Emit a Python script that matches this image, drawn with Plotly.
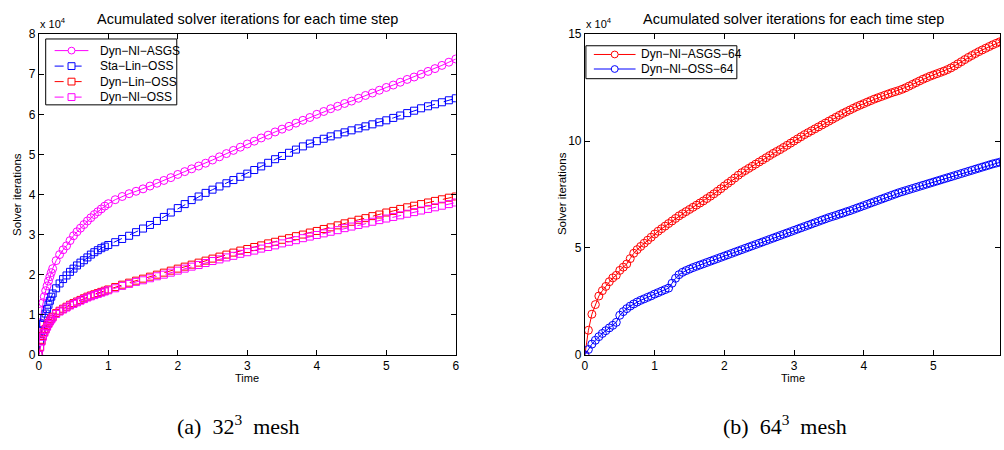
import plotly.graph_objects as go

# ---------------- data (values in units of 10^4 iterations) ----------------
time_32 = [0, 0.02, 0.04, 0.06, 0.08, 0.1, 0.12, 0.14, 0.16, 0.18, 0.2,
           0.25, 0.3, 0.35, 0.4, 0.45, 0.5, 0.55, 0.6, 0.65, 0.7, 0.75, 0.8, 0.85, 0.9, 0.95, 1.0,
           1.1, 1.2, 1.3, 1.4, 1.5, 1.6, 1.7, 1.8, 1.9, 2.0,
           2.1, 2.2, 2.3, 2.4, 2.5, 2.6, 2.7, 2.8, 2.9, 3.0,
           3.1, 3.2, 3.3, 3.4, 3.5, 3.6, 3.7, 3.8, 3.9, 4.0,
           4.1, 4.2, 4.3, 4.4, 4.5, 4.6, 4.7, 4.8, 4.9, 5.0,
           5.1, 5.2, 5.3, 5.4, 5.5, 5.6, 5.7, 5.8, 5.9, 6.0]

dyn_nl_asgs = [0, 0.8, 1.1, 1.3, 1.45, 1.6, 1.72, 1.84, 1.95, 2.05, 2.15,
               2.35, 2.5, 2.62, 2.72, 2.85, 2.97, 3.07, 3.16, 3.25, 3.34, 3.42, 3.5, 3.57, 3.64, 3.71, 3.77,
               3.87, 3.95, 4.02, 4.08, 4.14, 4.21, 4.28, 4.35, 4.42, 4.5,
               4.57, 4.64, 4.71, 4.78, 4.86, 4.94, 5.02, 5.1, 5.18, 5.26,
               5.33, 5.41, 5.48, 5.56, 5.63, 5.7, 5.78, 5.85, 5.92, 6.0,
               6.07, 6.14, 6.2, 6.27, 6.33, 6.4, 6.47, 6.53, 6.6, 6.67,
               6.73, 6.8, 6.87, 6.93, 7.0, 7.07, 7.14, 7.22, 7.3, 7.38]

sta_lin_oss = [0, 0.35, 0.6, 0.78, 0.92, 1.03, 1.14, 1.25, 1.35, 1.45, 1.53,
               1.66, 1.78, 1.89, 1.98, 2.07, 2.15, 2.23, 2.3, 2.36, 2.43, 2.5, 2.56, 2.61, 2.66, 2.7, 2.74,
               2.81, 2.89, 2.97, 3.06, 3.15, 3.24, 3.34, 3.44, 3.55, 3.66,
               3.76, 3.86, 3.95, 4.04, 4.12, 4.2, 4.28, 4.36, 4.44, 4.52,
               4.61, 4.7, 4.79, 4.88, 4.96, 5.04, 5.12, 5.2, 5.27, 5.33,
               5.39, 5.45, 5.5, 5.55, 5.6, 5.65, 5.7, 5.75, 5.8, 5.85,
               5.91, 5.97, 6.03, 6.09, 6.15, 6.2, 6.25, 6.3, 6.35, 6.4]

dyn_lin_oss = [0, 0.2, 0.35, 0.47, 0.57, 0.65, 0.72, 0.79, 0.85, 0.9, 0.95,
               1.04, 1.1, 1.15, 1.2, 1.25, 1.29, 1.33, 1.37, 1.41, 1.45, 1.48, 1.51, 1.54, 1.57, 1.6, 1.63,
               1.69, 1.75, 1.8, 1.85, 1.9, 1.95, 2.0, 2.05, 2.1, 2.15,
               2.2, 2.25, 2.3, 2.35, 2.4, 2.45, 2.5, 2.55, 2.6, 2.64,
               2.69, 2.73, 2.78, 2.82, 2.87, 2.91, 2.96, 3.0, 3.05, 3.09,
               3.14, 3.18, 3.23, 3.28, 3.32, 3.37, 3.41, 3.46, 3.5, 3.55,
               3.59, 3.64, 3.68, 3.72, 3.76, 3.8, 3.84, 3.88, 3.92, 3.95]

dyn_nl_oss = [0, 0.18, 0.33, 0.45, 0.55, 0.63, 0.7, 0.77, 0.83, 0.88, 0.93,
              1.02, 1.08, 1.13, 1.18, 1.23, 1.27, 1.31, 1.35, 1.39, 1.43, 1.46, 1.49, 1.52, 1.55, 1.58, 1.61,
              1.66, 1.72, 1.77, 1.82, 1.86, 1.91, 1.96, 2.0, 2.05, 2.1,
              2.15, 2.2, 2.24, 2.29, 2.34, 2.38, 2.43, 2.47, 2.52, 2.56,
              2.6, 2.65, 2.69, 2.73, 2.78, 2.82, 2.86, 2.91, 2.95, 2.99,
              3.03, 3.07, 3.11, 3.16, 3.2, 3.24, 3.28, 3.32, 3.36, 3.4,
              3.44, 3.48, 3.52, 3.56, 3.6, 3.64, 3.68, 3.72, 3.76, 3.8]

time_64 = [round(i * 0.05, 2) for i in range(121)]

dyn_nl_asgs_64 = [0, 1.15, 1.9, 2.35, 2.75, 3.0, 3.2, 3.42, 3.6, 3.72, 3.95, 4.1, 4.25, 4.5, 4.75, 4.92, 5.07, 5.22, 5.36, 5.5,
                  5.65, 5.78, 5.9, 6.02, 6.14, 6.26, 6.38, 6.5, 6.6, 6.7, 6.8, 6.9, 7.0, 7.1, 7.2, 7.31, 7.42, 7.53, 7.65, 7.77,
                  7.9, 8.02, 8.14, 8.27, 8.4, 8.52, 8.62, 8.72, 8.82, 8.92, 9.02, 9.12, 9.22, 9.32, 9.42, 9.51, 9.6, 9.7, 9.8, 9.9,
                  10.0, 10.1, 10.2, 10.3, 10.39, 10.48, 10.57, 10.66, 10.75, 10.84, 10.93, 11.02, 11.11, 11.2, 11.29, 11.37, 11.45, 11.53, 11.61, 11.68,
                  11.75, 11.82, 11.89, 11.96, 12.02, 12.08, 12.14, 12.2, 12.26, 12.31, 12.36, 12.42, 12.49, 12.57, 12.65, 12.73, 12.81, 12.89, 12.96, 13.03,
                  13.09, 13.15, 13.21, 13.27, 13.34, 13.42, 13.51, 13.61, 13.71, 13.81, 13.91, 14.0, 14.09, 14.18, 14.26, 14.34, 14.42, 14.5, 14.57, 14.64, 14.7]

dyn_nl_oss_64 = [0, 0.25, 0.5, 0.68, 0.85, 1.0, 1.13, 1.26, 1.38, 1.52, 1.85, 2.02, 2.16, 2.28, 2.38, 2.47, 2.55, 2.62, 2.69, 2.76,
                 2.84, 2.91, 2.98, 3.05, 3.12, 3.35, 3.58, 3.75, 3.86, 3.94, 4.01, 4.08, 4.14, 4.2, 4.26, 4.32, 4.38, 4.44, 4.5, 4.56,
                 4.62, 4.68, 4.74, 4.8, 4.86, 4.92, 4.98, 5.04, 5.1, 5.16, 5.22, 5.28, 5.34, 5.4, 5.46, 5.52, 5.58, 5.64, 5.7, 5.76,
                 5.82, 5.88, 5.94, 6.0, 6.06, 6.12, 6.18, 6.24, 6.3, 6.36, 6.42, 6.47, 6.52, 6.58, 6.63, 6.69, 6.74, 6.8, 6.86, 6.92,
                 6.98, 7.04, 7.1, 7.16, 7.22, 7.28, 7.34, 7.4, 7.46, 7.52, 7.58, 7.63, 7.68, 7.73, 7.78, 7.83, 7.88, 7.93, 7.98, 8.03,
                 8.08, 8.13, 8.18, 8.23, 8.28, 8.33, 8.38, 8.43, 8.48, 8.53, 8.58, 8.63, 8.68, 8.73, 8.78, 8.83, 8.88, 8.93, 8.97, 9.01, 9.05]

x_ticks = [0, 1, 2, 3, 4, 5, 6]
y_ticks_32 = [0, 1, 2, 3, 4, 5, 6, 7, 8]
y_ticks_64 = [0, 5, 10, 15]

series_names_32 = ["Dyn−Nl−ASGS", "Sta−Lin−OSS", "Dyn−Lin−OSS", "Dyn−Nl−OSS"]
series_names_64 = ["Dyn−Nl−ASGS−64", "Dyn−Nl−OSS−64"]

title_text = "Acumulated solver iterations for each time step"
caption_a = "(a)\u00a0 32<sup>3</sup>\u00a0 mesh"
caption_b = "(b)\u00a0 64<sup>3</sup>\u00a0 mesh"

# ---------------- figure ----------------
W, H = 1004, 450
SANS = "Liberation Sans, Arial, Helvetica, sans-serif"
SERIF = "Liberation Serif, Times New Roman, serif"
MAG, BLUE, RED = "#FF00FF", "#0000FF", "#FF0000"

fig = go.Figure()

styles_32 = [(MAG, "circle", "solid"), (BLUE, "square", "dash"),
             (RED, "square", "dash"), (MAG, "square", "dash")]
styles_64 = [(RED, "circle", "solid"), (BLUE, "circle", "solid")]


def add(x, y, name, style, size, xa, ya):
    color, sym, dash = style
    fig.add_trace(go.Scatter(
        x=x, y=y, name=name, mode="lines+markers", showlegend=False,
        line=dict(color=color, width=1, dash=dash),
        marker=dict(symbol=sym + "-open", size=size, color=color,
                    line=dict(color=color, width=1)),
        xaxis=xa, yaxis=ya))


for vals, name, st in zip([dyn_nl_asgs, sta_lin_oss, dyn_lin_oss, dyn_nl_oss], series_names_32, styles_32):
    add(time_32, vals, name, st, 8 if st[1] == "circle" else 7, "x", "y")
for vals, name, st in zip([dyn_nl_asgs_64, dyn_nl_oss_64], series_names_64, styles_64):
    add(time_64, vals, name, st, 8, "x2", "y2")


def px_x(p):
    return p / W


def px_y(p):
    return 1 - p / H


y_dom = [px_y(359), px_y(28)]
ax_common = dict(showline=True, linecolor="black", linewidth=1, mirror="ticks",
                 ticks="inside", ticklen=5, tickcolor="black", tickwidth=1,
                 showgrid=False, zeroline=False,
                 tickfont=dict(family=SANS, size=12, color="black"))

fig.update_layout(
    width=W, height=H,
    margin=dict(l=0, r=0, t=0, b=0),
    paper_bgcolor="white", plot_bgcolor="white",
    font=dict(family=SANS, color="black"),
    showlegend=False,
    xaxis=dict(domain=[px_x(36), px_x(456)], range=[0, 6], tickvals=x_ticks, anchor="y", **ax_common),
    yaxis=dict(domain=y_dom, range=[0, 8], tickvals=y_ticks_32, anchor="x", **ax_common),
    xaxis2=dict(domain=[px_x(586), 1.0], range=[0, (1004 - 586) / 70.2], tickvals=x_ticks, anchor="y2", **ax_common),
    yaxis2=dict(domain=y_dom, range=[0, 15], tickvals=y_ticks_64, anchor="x2", **ax_common),
)


def ann(text, x, y, size, family=SANS, angle=0, xanchor="center", yanchor="middle"):
    fig.add_annotation(text=text, x=px_x(x), y=px_y(y), xref="paper", yref="paper",
                       showarrow=False, textangle=angle, xanchor=xanchor, yanchor=yanchor,
                       font=dict(family=family, size=size, color="black"))


def pshape(**kw):
    fig.add_shape(xref="paper", yref="paper", layer="above", **kw)


# Legend boxes drawn as decorations (MATLAB-style compact legend)
def legend_box(x0, y0, x1, y1, names, styles, rows_y, lx0, lx1, tx, msize):
    pshape(type="rect", x0=px_x(x0), x1=px_x(x1), y0=px_y(y1), y1=px_y(y0),
           line=dict(color="black", width=1), fillcolor="white")
    for name, (color, sym, dash), ry in zip(names, styles, rows_y):
        pshape(type="line", x0=px_x(lx0), x1=px_x(lx1), y0=px_y(ry), y1=px_y(ry),
               line=dict(color=color, width=1, dash=dash))
        cx = (lx0 + lx1) / 2
        r = msize / 2
        pshape(type="circle" if sym == "circle" else "rect",
               x0=px_x(cx - r), x1=px_x(cx + r), y0=px_y(ry + r), y1=px_y(ry - r),
               line=dict(color=color, width=1), fillcolor="white")
        ann(name, tx, ry, 12, xanchor="left")


legend_box(43, 33, 175, 101, series_names_32, styles_32, [45, 61, 77, 93], 52, 86, 96, 7)
legend_box(587, 40, 739, 74, series_names_64, styles_64, [49, 64], 595, 637, 640, 7)

for cx, lx in [(246, 14), (796, 563)]:
    ann(title_text, cx, 12, 14.5)
    ann("Time", cx, 383, 11)
    ann("Solver iterations", lx, 193, 11.5, angle=-90)

ann("x 10<sup>4</sup>", 35, 17, 11, xanchor="left")
ann("x 10<sup>4</sup>", 585, 17, 11, xanchor="left")

ann(caption_a, 237, 431, 22, family=SERIF)
ann(caption_b, 787, 431, 22, family=SERIF)

fig.write_html("out.html", config={"displayModeBar": False})
